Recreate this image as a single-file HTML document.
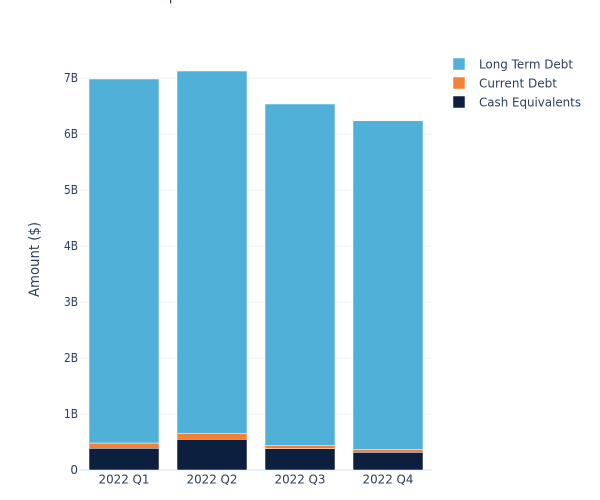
<!DOCTYPE html>
<html>
<head>
<meta charset="utf-8">
<style>
  html, body { margin: 0; padding: 0; background: #fff; }
  svg { display: block; font-family: "DejaVu Sans", "Liberation Sans", sans-serif; }
</style>
</head>
<body>
<svg width="600" height="500" viewBox="0 0 600 500" xmlns="http://www.w3.org/2000/svg">
  <rect x="0" y="0" width="600" height="500" fill="#fff"/>
  <!-- cut-off title descender -->
  <rect x="170" y="0" width="1.2" height="3.5" fill="#2a3f5f"/>

  <!-- gridlines -->
  <g stroke="#ebf0f8" stroke-width="1">
    <line x1="80" x2="432" y1="414" y2="414"/>
    <line x1="80" x2="432" y1="358" y2="358"/>
    <line x1="80" x2="432" y1="302" y2="302"/>
    <line x1="80" x2="432" y1="246" y2="246"/>
    <line x1="80" x2="432" y1="190" y2="190"/>
    <line x1="80" x2="432" y1="134" y2="134"/>
    <line x1="80" x2="432" y1="78" y2="78"/>
  </g>
  <line x1="80" x2="432" y1="470" y2="470" stroke="#ebf0f8" stroke-width="2"/>

  <!-- bars -->
  <g stroke="#ffffff" stroke-width="0.5">
    <!-- Q1 -->
    <rect x="89" y="448.3" width="70" height="21.7" fill="#0d1f3f"/>
    <rect x="89" y="443" width="70" height="5.3" fill="#f58137"/>
    <rect x="89" y="79" width="70" height="364" fill="#51b0d8"/>
    <!-- Q2 -->
    <rect x="177" y="439.3" width="70" height="30.7" fill="#0d1f3f"/>
    <rect x="177" y="433.3" width="70" height="6" fill="#f58137"/>
    <rect x="177" y="71" width="70" height="362.3" fill="#51b0d8"/>
    <!-- Q3 -->
    <rect x="265" y="448.7" width="70" height="21.3" fill="#0d1f3f"/>
    <rect x="265" y="445.3" width="70" height="3.4" fill="#f58137"/>
    <rect x="265" y="104" width="70" height="341.3" fill="#51b0d8"/>
    <!-- Q4 -->
    <rect x="353" y="452.3" width="70" height="17.7" fill="#0d1f3f"/>
    <rect x="353" y="449.3" width="70" height="3" fill="#f58137"/>
    <rect x="353" y="120.7" width="70" height="328.6" fill="#51b0d8"/>
  </g>

  <!-- y tick labels -->
  <g fill="#2a3f5f" font-size="12" text-anchor="end">
    <text x="78" y="474">0</text>
    <text x="78" y="418" textLength="14" lengthAdjust="spacingAndGlyphs">1B</text>
    <text x="78" y="362" textLength="14" lengthAdjust="spacingAndGlyphs">2B</text>
    <text x="78" y="306" textLength="14" lengthAdjust="spacingAndGlyphs">3B</text>
    <text x="78" y="250" textLength="14" lengthAdjust="spacingAndGlyphs">4B</text>
    <text x="78" y="194" textLength="14" lengthAdjust="spacingAndGlyphs">5B</text>
    <text x="78" y="138" textLength="14" lengthAdjust="spacingAndGlyphs">6B</text>
    <text x="78" y="82" textLength="14" lengthAdjust="spacingAndGlyphs">7B</text>
  </g>

  <!-- x tick labels -->
  <g fill="#2a3f5f" font-size="12">
    <text x="98.5" y="483.5" textLength="51" lengthAdjust="spacingAndGlyphs">2022 Q1</text>
    <text x="186.5" y="483.5" textLength="51" lengthAdjust="spacingAndGlyphs">2022 Q2</text>
    <text x="274.5" y="483.5" textLength="51" lengthAdjust="spacingAndGlyphs">2022 Q3</text>
    <text x="362.5" y="483.5" textLength="51" lengthAdjust="spacingAndGlyphs">2022 Q4</text>
  </g>

  <!-- y axis title -->
  <text transform="translate(39,297) rotate(-90)" fill="#2a3f5f" font-size="14" textLength="75" lengthAdjust="spacingAndGlyphs">Amount ($)</text>

  <!-- legend -->
  <g font-size="12" fill="#2a3f5f">
    <rect x="453" y="58" width="12" height="12" fill="#51b0d8" stroke="#fff" stroke-width="0.5"/>
    <text x="479" y="68.5" textLength="94" lengthAdjust="spacingAndGlyphs">Long Term Debt</text>
    <rect x="453" y="77" width="12" height="12" fill="#f58137" stroke="#fff" stroke-width="0.5"/>
    <text x="479" y="87.5" textLength="78" lengthAdjust="spacingAndGlyphs">Current Debt</text>
    <rect x="453" y="96" width="12" height="12" fill="#0d1f3f" stroke="#fff" stroke-width="0.5"/>
    <text x="479" y="106.5" textLength="102" lengthAdjust="spacingAndGlyphs">Cash Equivalents</text>
  </g>
</svg>
</body>
</html>
